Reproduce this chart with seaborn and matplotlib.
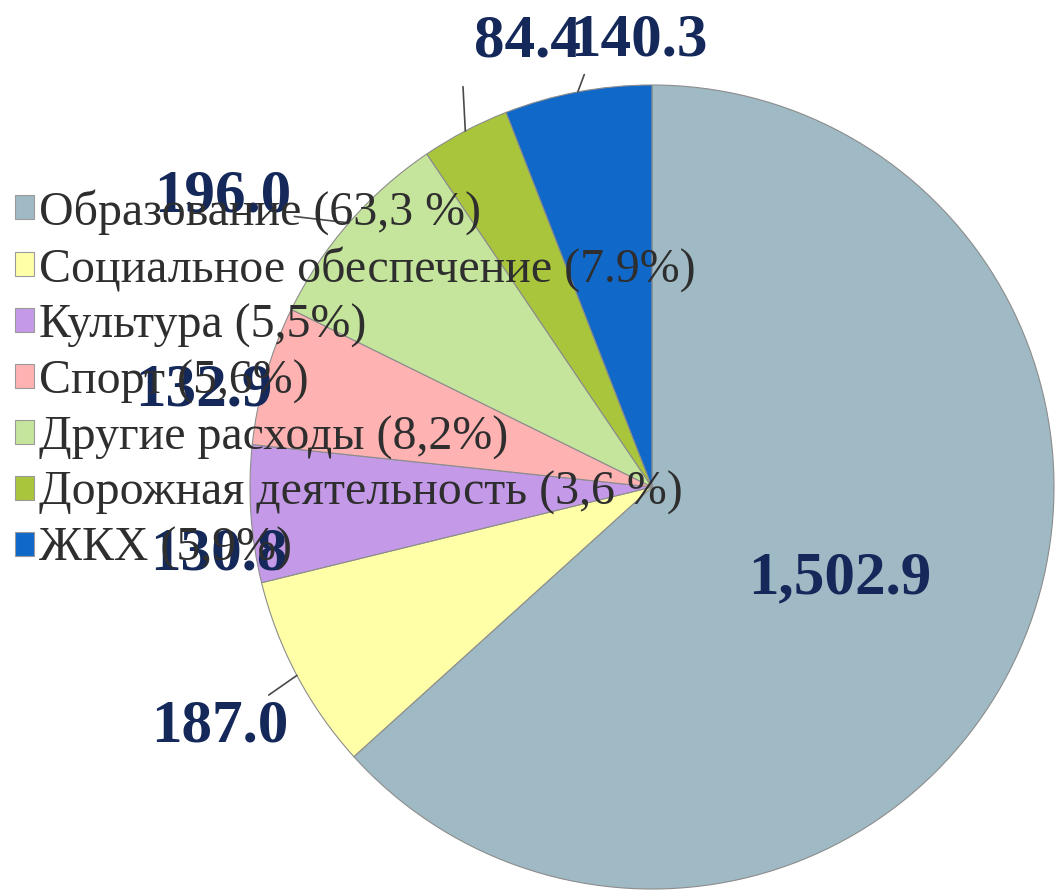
import numpy as np
import matplotlib
matplotlib.use('Agg')
import matplotlib.pyplot as plt
import seaborn as sns

# data
categories = ['Образование (63,3 %)', 'Социальное обеспечение (7.9%)', 'Культура (5,5%)',
              'Спорт (5,6%)', 'Другие расходы (8,2%)', 'Дорожная деятельность (3,6 %)', 'ЖКХ (5,9%)']
values = [1502.9, 187.0, 130.8, 132.9, 196.0, 84.4, 140.3]
value_labels = ['1,502.9', '187.0', '130.8', '132.9', '196.0', '84.4', '140.3']
colors = ['#9fbac4', '#ffffa8', '#c49ae8', '#ffb2b2', '#c6e59c', '#a9c53c', '#1068c9']

# label placement: radial distance, angle shift (deg), leader line relpos (None = no line)
label_r = [0.52, 1.23, 1.09, 1.14, 1.29, 1.15, 1.11]
label_dtheta = [-2, 1, 5, 4, 7, -12, -9]
leader = [None, (0.65, 0.7), None, None, (1.0, 0.15), (-0.1, -0.3), (0.1, -0.1)]

sns.set_theme(style='white')
plt.rcParams['font.family'] = ['Liberation Serif', 'DejaVu Serif']

fig = plt.figure(figsize=(10.55, 8.94), dpi=100)
ax = fig.add_axes([0, 0, 1, 1])
ax.set_facecolor('white')

wedges, _ = ax.pie(values, colors=colors, startangle=90, counterclock=False,
                   radius=1.0, wedgeprops=dict(edgecolor='#8c8c8c', linewidth=0.8))

total = sum(values)
cum = np.cumsum([0] + values[:-1])
for i, w in enumerate(wedges):
    mid = 90 - 360 * (cum[i] + values[i] / 2) / total
    th = np.deg2rad(mid + label_dtheta[i])
    tx, ty = label_r[i] * np.cos(th), label_r[i] * np.sin(th)
    mr = np.deg2rad(mid)
    ex, ey = np.cos(mr), np.sin(mr)
    if leader[i] is not None:
        ax.annotate(value_labels[i], xy=(ex, ey), xytext=(tx, ty),
                    ha='center', va='center', fontsize=44, fontweight='bold', color='#14285a',
                    arrowprops=dict(arrowstyle='-', color='#4a4a4a', lw=1.2,
                                    relpos=leader[i], shrinkA=0, shrinkB=0))
    else:
        ax.text(tx, ty, value_labels[i], ha='center', va='center',
                fontsize=44, fontweight='bold', color='#14285a')

ax.set_aspect('equal')
ax.set_xlim(-652 / 402, (1055 - 652) / 402)
ax.set_ylim(-(894 - 487) / 402, 487 / 402)
ax.axis('off')

leg = fig.legend(wedges, categories, loc='upper left', bbox_to_anchor=(0.014, 0.789),
                 frameon=False, fontsize=34.5, handlelength=0.4, handleheight=0.4,
                 handletextpad=0.1, labelspacing=0.24, borderaxespad=0, borderpad=0)
for t in leg.get_texts():
    t.set_color('#2e2e2e')
for h in leg.legend_handles:
    h.set_edgecolor('#9a9a9a')

fig.savefig('out.png', dpi=100)
